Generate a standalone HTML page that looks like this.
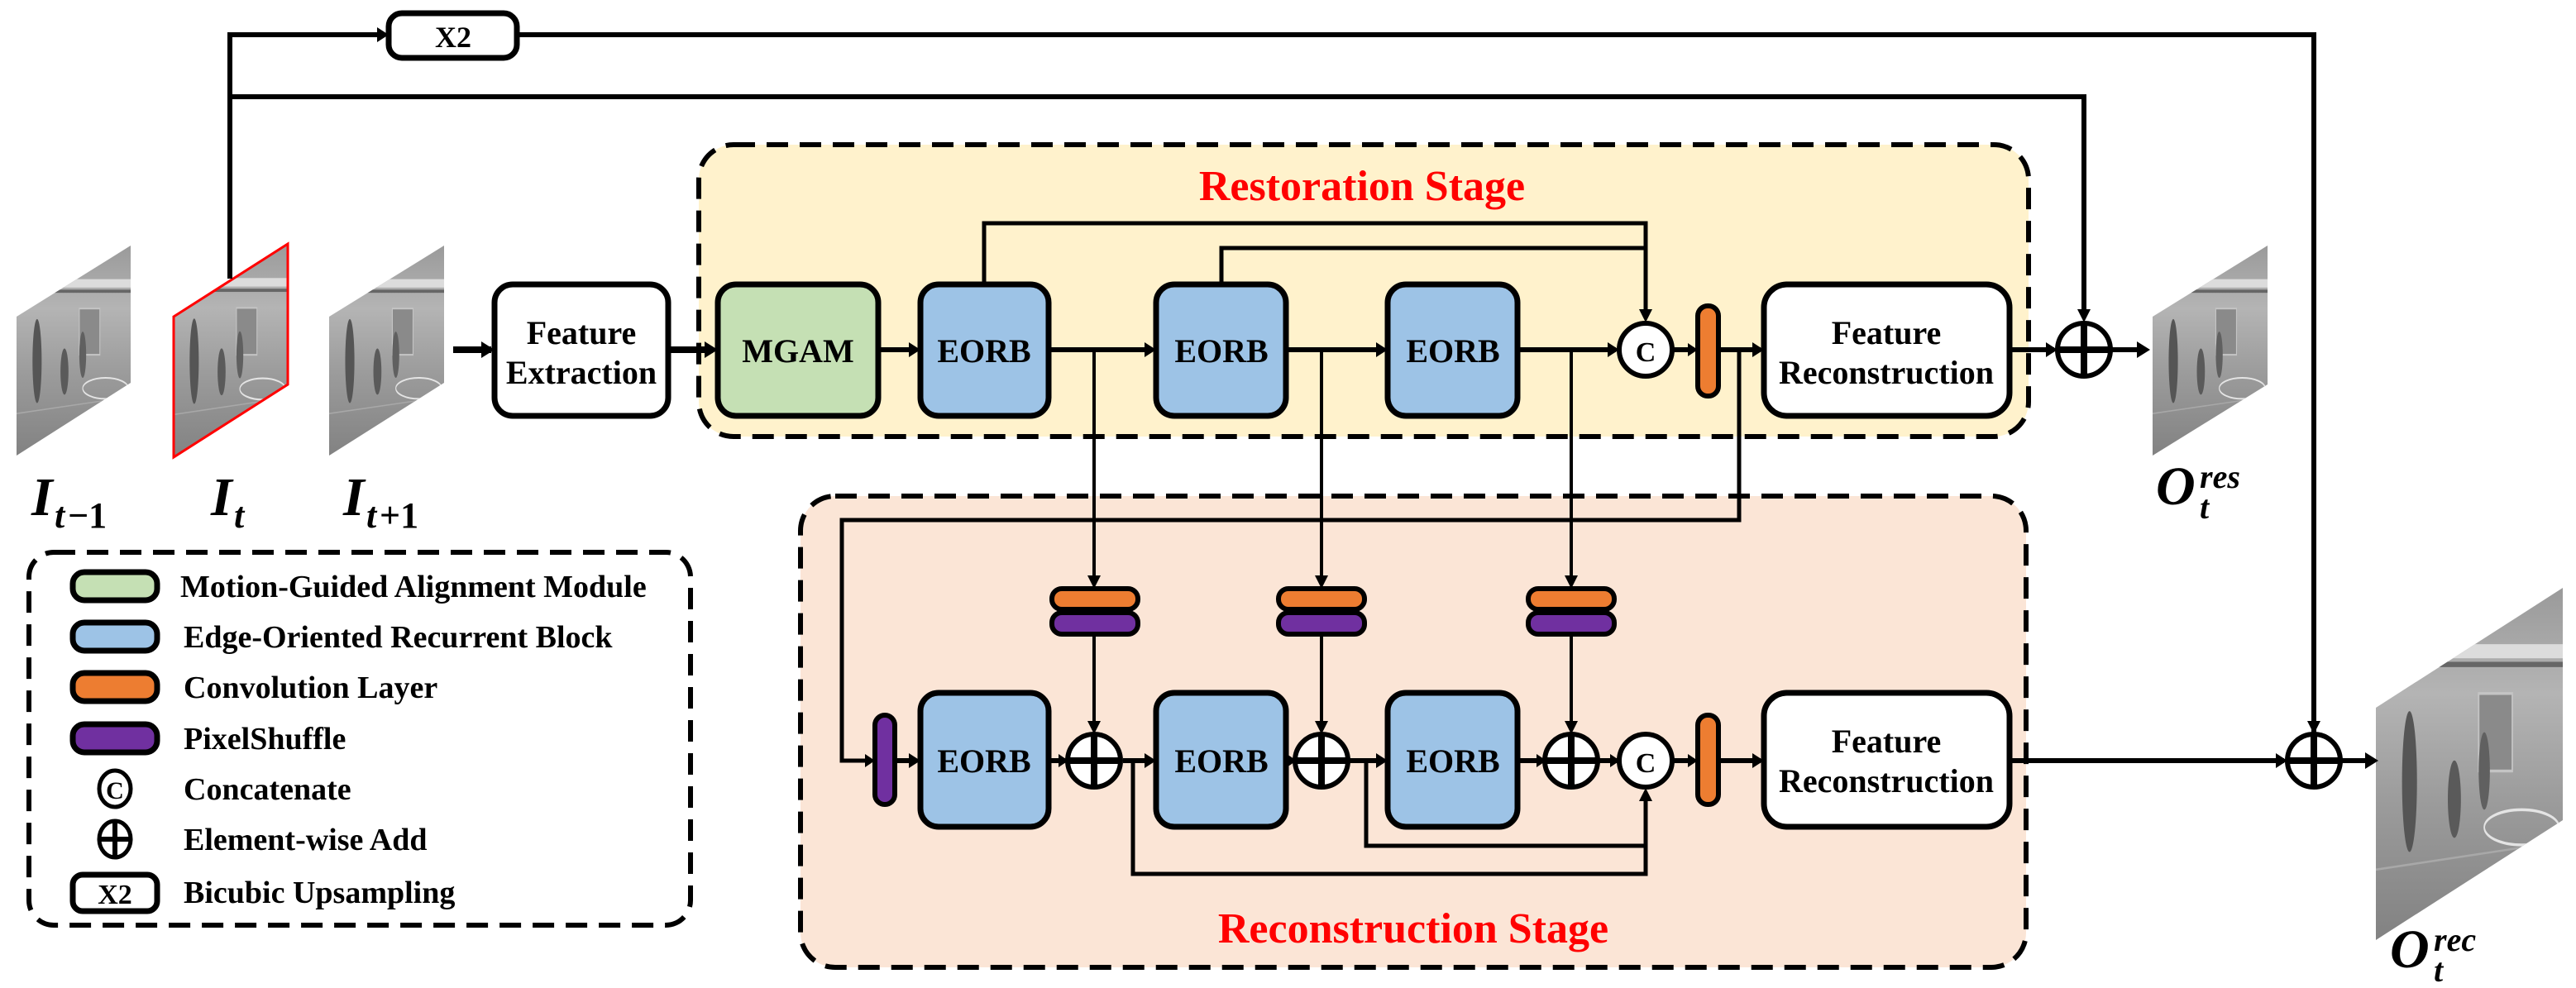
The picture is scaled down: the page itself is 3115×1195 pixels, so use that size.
<!DOCTYPE html>
<html><head><meta charset="utf-8"><style>
html,body{margin:0;padding:0;background:#fff}
svg{display:block}
text{font-family:"Liberation Serif","Times New Roman","DejaVu Serif",serif;font-weight:bold}
</style></head><body>
<svg width="3115" height="1195" viewBox="0 0 3115 1195" xmlns="http://www.w3.org/2000/svg" font-family="Liberation Serif, Times New Roman, DejaVu Serif, serif" font-weight="bold">
<defs>
<linearGradient id="g" x1="0" y1="0" x2="0" y2="1">
<stop offset="0" stop-color="#9a9a9a"/><stop offset="0.3" stop-color="#b4b4b4"/><stop offset="0.6" stop-color="#9c9c9c"/><stop offset="1" stop-color="#828282"/></linearGradient>
<g id="scene">
<rect x="0" y="0" width="100" height="100" fill="url(#g)"/>
<rect x="0" y="16" width="100" height="4" fill="#dcdcdc"/>
<rect x="0" y="21" width="100" height="1.5" fill="#666"/>
<rect x="55" y="30" width="18" height="22" fill="#8a8a8a" stroke="#c4c4c4" stroke-width="0.8"/>
<ellipse cx="18" cy="55" rx="4" ry="20" fill="#555"/>
<ellipse cx="42" cy="60" rx="3.5" ry="11" fill="#5a5a5a"/>
<ellipse cx="58" cy="52" rx="3" ry="11" fill="#606060"/>
<ellipse cx="78" cy="68" rx="20" ry="5" fill="none" stroke="#e4e4e4" stroke-width="0.8"/>
<line x1="0" y1="80" x2="100" y2="72" stroke="#a8a8a8" stroke-width="0.6"/>
</g>
<clipPath id="c1"><polygon points="20,383 158,297 158,463 20,551"/></clipPath>
<clipPath id="c2"><polygon points="210,383 348,295 348,465 210,553"/></clipPath>
<clipPath id="c3"><polygon points="398,383 537,297 537,463 398,551"/></clipPath>
<clipPath id="c4"><polygon points="2603,383 2742,297 2742,465 2603,551"/></clipPath>
<clipPath id="c5"><polygon points="2873,856 3099,711 3099,992 2873,1137"/></clipPath>
</defs>

<g clip-path="url(#c1)"><use href="#scene" transform="translate(20,297) scale(1.38,2.54)"/></g>
<g clip-path="url(#c2)"><use href="#scene" transform="translate(210,295) scale(1.38,2.58)"/></g>
<g clip-path="url(#c3)"><use href="#scene" transform="translate(398,297) scale(1.39,2.54)"/></g>
<g clip-path="url(#c4)"><use href="#scene" transform="translate(2603,297) scale(1.39,2.54)"/></g>
<g clip-path="url(#c5)"><use href="#scene" transform="translate(2873,711) scale(2.26,4.26)"/></g>
<polygon points="210,383 348,295 348,465 210,553" fill="none" stroke="#f00" stroke-width="3"/>

<!-- labels -->
<text x="38" y="623" font-size="66" font-style="italic">I</text><text x="66" y="638" font-size="44" font-style="italic">t</text><text x="82" y="638" font-size="44">−1</text>
<text x="255" y="623" font-size="66" font-style="italic">I</text><text x="283" y="638" font-size="44" font-style="italic">t</text>
<text x="415" y="623" font-size="66" font-style="italic">I</text><text x="443" y="638" font-size="44" font-style="italic">t</text><text x="459" y="638" font-size="44">+1</text>
<text x="2607" y="610" font-size="66" font-style="italic">O</text><text x="2660" y="590" font-size="40" font-style="italic">res</text><text x="2660" y="627" font-size="40" font-style="italic">t</text>
<text x="2890" y="1170" font-size="66" font-style="italic">O</text><text x="2943" y="1150" font-size="40" font-style="italic">rec</text><text x="2943" y="1187" font-size="40" font-style="italic">t</text>

<!-- stage backgrounds -->
<rect x="845" y="175" width="1608" height="353" rx="42" fill="#fff2cc" stroke="#000" stroke-width="6" stroke-dasharray="26,14"/>
<rect x="968" y="600" width="1482" height="570" rx="42" fill="#fbe5d6" stroke="#000" stroke-width="6" stroke-dasharray="26,14"/>
<text x="1647" y="242" font-size="52" fill="#f00" text-anchor="middle">Restoration Stage</text>
<text x="1709" y="1140" font-size="52" fill="#f00" text-anchor="middle">Reconstruction Stage</text>

<g fill="none" stroke="#000" stroke-width="6">
<polyline points="278,337 278,42 462,42"/>
<polyline points="625,42 2798,42 2798,886"/>
<polyline points="278,117 2520,117 2520,384"/>
<line x1="548" y1="423" x2="594" y2="423" stroke-width="8"/>
<line x1="808" y1="423" x2="862" y2="423" stroke-width="8"/>
<line x1="1062" y1="423" x2="1108" y2="423"/>
<line x1="1268" y1="423" x2="1393" y2="423"/>
<line x1="1555" y1="423" x2="1673" y2="423"/>
<line x1="1835" y1="423" x2="1954" y2="423"/>
<line x1="2022" y1="423" x2="2049" y2="423"/>
<line x1="2078" y1="423" x2="2129" y2="423"/>
<line x1="2430" y1="423" x2="2484" y2="423"/>
<line x1="2552" y1="423" x2="2592" y2="423"/>
<polyline points="1190,344 1190,270 1990,270 1990,385" stroke-width="5"/>
<polyline points="1477,344 1477,300 1990,300" stroke-width="5"/>
<line x1="1323" y1="423" x2="1323" y2="706" stroke-width="4"/>
<line x1="1598" y1="423" x2="1598" y2="706" stroke-width="4"/>
<line x1="1900" y1="423" x2="1900" y2="706" stroke-width="4"/>
<polyline points="2103,423 2103,629 1018,629 1018,920 1052,920" stroke-width="5"/>
<line x1="1082" y1="920" x2="1108" y2="920"/>
<line x1="1268" y1="920" x2="1288" y2="920"/>
<line x1="1358" y1="920" x2="1393" y2="920"/>
<line x1="1555" y1="920" x2="1565" y2="920"/>
<line x1="1632" y1="920" x2="1673" y2="920"/>
<line x1="1835" y1="920" x2="1866" y2="920"/>
<line x1="1934" y1="920" x2="1956" y2="920"/>
<line x1="2022" y1="920" x2="2049" y2="920"/>
<line x1="2078" y1="920" x2="2129" y2="920"/>
<line x1="2430" y1="920" x2="2762" y2="920"/>
<line x1="2832" y1="920" x2="2868" y2="920"/>
<line x1="1323" y1="768" x2="1323" y2="884" stroke-width="4"/>
<line x1="1598" y1="768" x2="1598" y2="884" stroke-width="4"/>
<line x1="1900" y1="768" x2="1900" y2="884" stroke-width="4"/>
<polyline points="1370,920 1370,1057 1990,1057 1990,958" stroke-width="5"/>
<polyline points="1652,920 1652,1023 1990,1023" stroke-width="5"/>
</g>
<g fill="#000">
<path d="M470,42 l-14,-9 v18z"/>
<path d="M598,423 l-16,-10 v20z"/><path d="M868,423 l-16,-10 v20z"/>
<path d="M1113,423 l-14,-9 v18z"/><path d="M1398,423 l-14,-9 v18z"/><path d="M1678,423 l-14,-9 v18z"/>
<path d="M1958,423 l-14,-9 v18z"/><path d="M2053,423 l-12,-8 v16z"/><path d="M2133,423 l-14,-9 v18z"/>
<path d="M2488,423 l-14,-9 v18z"/><path d="M2600,423 l-16,-10 v20z"/>
<path d="M1990,390 l-8,-16 h16z"/><path d="M2520,390 l-8,-16 h16z"/>
<path d="M1323,712 l-8,-16 h16z"/><path d="M1598,712 l-8,-16 h16z"/><path d="M1900,712 l-8,-16 h16z"/>
<path d="M1323,888 l-8,-16 h16z"/><path d="M1598,888 l-8,-16 h16z"/><path d="M1900,888 l-8,-16 h16z"/>
<path d="M1990,953 l-8,16 h16z"/><path d="M2798,888 l-8,-16 h16z"/>
<path d="M1058,920 l-12,-8 v16z"/><path d="M1113,920 l-14,-9 v18z"/><path d="M1292,920 l-12,-8 v16z"/>
<path d="M1398,920 l-14,-9 v18z"/><path d="M1568,920 l-12,-8 v16z"/><path d="M1678,920 l-14,-9 v18z"/>
<path d="M1870,920 l-12,-8 v16z"/><path d="M1959,920 l-12,-8 v16z"/><path d="M2053,920 l-12,-8 v16z"/>
<path d="M2133,920 l-14,-9 v18z"/><path d="M2766,920 l-14,-9 v18z"/><path d="M2876,920 l-16,-10 v20z"/>
</g>

<g stroke="#000" stroke-width="7">
<rect x="470" y="16" width="155" height="54" rx="16" fill="#fff"/>
<rect x="598" y="344" width="210" height="159" rx="22" fill="#fff"/>
<rect x="868" y="344" width="194" height="159" rx="22" fill="#c5e0b4"/>
<rect x="1113" y="344" width="155" height="159" rx="22" fill="#9dc3e6"/>
<rect x="1398" y="344" width="157" height="159" rx="22" fill="#9dc3e6"/>
<rect x="1678" y="344" width="157" height="159" rx="22" fill="#9dc3e6"/>
<rect x="2133" y="344" width="297" height="159" rx="28" fill="#fff"/>
<rect x="2053" y="370" width="25" height="109" rx="12" fill="#ed7d31" stroke-width="6"/>
<rect x="1113" y="838" width="155" height="162" rx="22" fill="#9dc3e6"/>
<rect x="1398" y="838" width="157" height="162" rx="22" fill="#9dc3e6"/>
<rect x="1678" y="838" width="157" height="162" rx="22" fill="#9dc3e6"/>
<rect x="2133" y="838" width="297" height="162" rx="28" fill="#fff"/>
<rect x="2053" y="865" width="25" height="108" rx="12" fill="#ed7d31" stroke-width="6"/>
<rect x="1058" y="865" width="24" height="108" rx="12" fill="#7030a0" stroke-width="6"/>
<g stroke-width="6">
<rect x="1272" y="712" width="104" height="25" rx="12" fill="#ed7d31"/><rect x="1272" y="741" width="104" height="26" rx="12" fill="#7030a0"/>
<rect x="1546" y="712" width="104" height="25" rx="12" fill="#ed7d31"/><rect x="1546" y="741" width="104" height="26" rx="12" fill="#7030a0"/>
<rect x="1848" y="712" width="104" height="25" rx="12" fill="#ed7d31"/><rect x="1848" y="741" width="104" height="26" rx="12" fill="#7030a0"/>
</g>
<g fill="#fff" stroke-width="6">
<circle cx="1990" cy="423" r="32"/><circle cx="2520" cy="423" r="32"/>
<circle cx="1323" cy="920" r="32"/><circle cx="1598" cy="920" r="32"/><circle cx="1900" cy="920" r="32"/>
<circle cx="1990" cy="920" r="32"/><circle cx="2798" cy="920" r="32"/>
</g>
</g>
<g stroke="#000" stroke-width="8">
<path d="M2488,423 h64 M2520,391 v64"/>
<path d="M1291,920 h64 M1323,888 v64"/><path d="M1566,920 h64 M1598,888 v64"/><path d="M1868,920 h64 M1900,888 v64"/>
<path d="M2766,920 h64 M2798,888 v64"/>
</g>
<g font-size="40" text-anchor="middle">
<text x="548" y="57" font-size="36">X2</text>
<text x="703" y="416">Feature</text><text x="703" y="464">Extraction</text>
<text x="965" y="438">MGAM</text>
<text x="1190" y="438">EORB</text><text x="1477" y="438">EORB</text><text x="1757" y="438">EORB</text>
<text x="1990" y="437" font-size="34">C</text><text x="1990" y="934" font-size="34">C</text>
<text x="2281" y="416">Feature</text><text x="2281" y="464">Reconstruction</text>
<text x="1190" y="934">EORB</text><text x="1477" y="934">EORB</text><text x="1757" y="934">EORB</text>
<text x="2281" y="910">Feature</text><text x="2281" y="958">Reconstruction</text>
</g>

<rect x="35" y="668" width="800" height="451" rx="30" fill="#fff" stroke="#000" stroke-width="6" stroke-dasharray="26,14"/>
<g stroke="#000" stroke-width="7">
<rect x="88" y="692" width="102" height="34" rx="14" fill="#c5e0b4"/>
<rect x="88" y="753" width="102" height="34" rx="14" fill="#9dc3e6"/>
<rect x="88" y="814" width="102" height="34" rx="14" fill="#ed7d31"/>
<rect x="88" y="876" width="102" height="34" rx="14" fill="#7030a0"/>
<rect x="88" y="1058" width="102" height="44" rx="12" fill="#fff"/>
</g>
<ellipse cx="139" cy="954" rx="19" ry="22" fill="#fff" stroke="#000" stroke-width="5"/>
<ellipse cx="139" cy="1015" rx="19" ry="22" fill="#fff" stroke="#000" stroke-width="5"/>
<path d="M120,1015 h38 M139,993 v44" stroke="#000" stroke-width="6"/>
<g font-size="38">
<text x="218" y="722">Motion-Guided Alignment Module</text>
<text x="222" y="783">Edge-Oriented Recurrent Block</text>
<text x="222" y="844">Convolution Layer</text>
<text x="222" y="906">PixelShuffle</text>
<text x="222" y="967">Concatenate</text>
<text x="222" y="1028">Element-wise Add</text>
<text x="222" y="1092">Bicubic Upsampling</text>
<text x="139" y="966" font-size="30" text-anchor="middle">C</text>
<text x="139" y="1093" font-size="34" text-anchor="middle">X2</text>
</g>
</svg>
</body></html>
